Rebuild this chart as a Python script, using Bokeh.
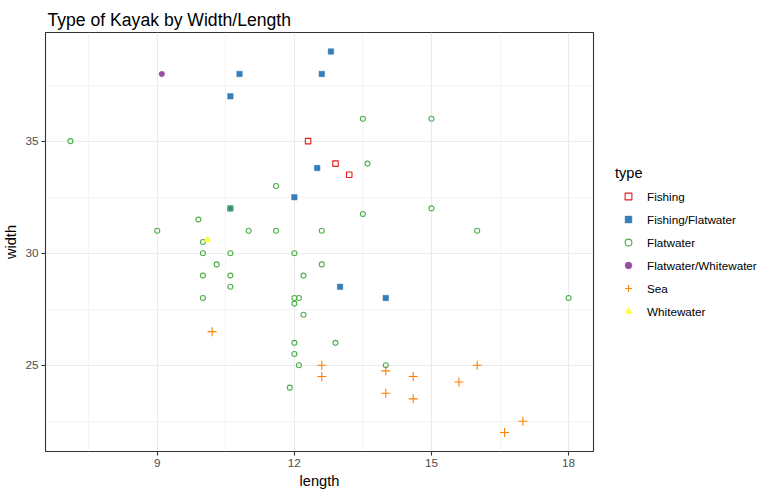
from bokeh.plotting import figure
from bokeh.models import FixedTicker, Legend, LegendItem
from bokeh.embed import file_html
from bokeh.resources import INLINE

types = ["Fishing", "Fishing/Flatwater", "Flatwater", "Flatwater/Whitewater", "Sea", "Whitewater"]

fishing_len = [12.3, 12.9, 13.2]
fishing_wid = [35, 34, 33.5]

fishflat_len = [12.8, 10.8, 12.6, 10.6, 12.5, 12.0, 10.6, 13.0, 14.0]
fishflat_wid = [39, 38, 38, 37, 33.8, 32.5, 32, 28.5, 28]

flat_len = [7.1, 13.5, 15.0, 13.6, 11.6, 9.9, 10.6, 13.5, 15.0, 9.0, 11.0, 11.6, 12.6, 16.0,
            10.0, 10.0, 10.6, 12.0, 10.3, 12.6, 10.0, 10.6, 12.2, 10.6, 10.0, 12.0, 12.1, 12.0,
            12.2, 18.0, 12.0, 12.9, 12.0, 12.1, 14.0, 11.9]
flat_wid = [35, 36, 36, 34, 33, 31.5, 32, 31.75, 32, 31, 31, 31, 31, 31,
            30.5, 30, 30, 30, 29.5, 29.5, 29, 29, 29, 28.5, 28, 28, 28, 27.75,
            27.25, 28, 26, 26, 25.5, 25, 25, 24]

flatwhite_len = [9.1]
flatwhite_wid = [38]

sea_len = [10.2, 12.6, 12.6, 14.0, 14.0, 14.6, 14.6, 15.6, 16.0, 16.6, 17.0]
sea_wid = [26.5, 25, 24.5, 24.75, 23.75, 24.5, 23.5, 24.25, 25, 22, 22.5]

white_len = [10.1]
white_wid = [30.6]

x_ticks = [9, 12, 15, 18]
x_minor = [7.5, 10.5, 13.5, 16.5]
y_ticks = [25, 30, 35]
y_minor = [22.5, 27.5, 32.5, 37.5]

FONT = "Liberation Sans"

p = figure(frame_width=548, frame_height=419, output_backend="svg", toolbar_location=None,
           x_range=(6.555, 18.545), y_range=(21.15, 39.85),
           min_border_left=39, min_border_top=32, min_border_bottom=37, min_border_right=0)

p.title.text = "Type of Kayak by Width/Length"
p.title.text_font = FONT
p.title.text_font_size = "17.6px"
p.title.text_font_style = "normal"
p.title.text_color = "black"
p.title.offset = 2
p.title.standoff = 2
p.title.vertical_align = "top"

p.background_fill_color = "white"
p.border_fill_color = "white"
p.outline_line_color = "#333333"
p.outline_line_width = 1.1

p.xaxis.ticker = FixedTicker(ticks=x_ticks, minor_ticks=x_minor)
p.yaxis.ticker = FixedTicker(ticks=y_ticks, minor_ticks=y_minor)
p.xgrid.ticker = p.xaxis.ticker
p.ygrid.ticker = p.yaxis.ticker

for g in (p.xgrid, p.ygrid):
    g.grid_line_color = "#EBEBEB"
    g.grid_line_width = 1.1
    g.minor_grid_line_color = "#EBEBEB"
    g.minor_grid_line_width = 0.55

for ax in (p.xaxis, p.yaxis):
    ax.axis_line_color = None
    ax.major_tick_line_color = "#333333"
    ax.major_tick_line_width = 1.1
    ax.major_tick_out = 4
    ax.major_tick_in = 0
    ax.minor_tick_line_color = None
    ax.major_label_text_font = FONT
    ax.major_label_text_font_size = "11.7px"
    ax.major_label_text_color = "#4D4D4D"
    ax.major_label_standoff = 3
    ax.axis_label_text_font = FONT
    ax.axis_label_text_font_size = "14.6px"
    ax.axis_label_text_font_style = "normal"
    ax.axis_label_text_color = "black"
    ax.axis_label_standoff = 3

p.xaxis.axis_label = "length"
p.yaxis.axis_label = "width"

r1 = p.scatter(fishing_len, fishing_wid, marker="square", size=5.5, fill_color=None,
               line_color="#E41A1C", line_width=1.1)
r2 = p.scatter(fishflat_len, fishflat_wid, marker="square", size=5.5, fill_color="#377EB8",
               line_color="#377EB8", line_width=0.5)
r3 = p.scatter(flat_len, flat_wid, marker="circle", size=5, fill_color=None,
               line_color="#4DAF4A", line_width=1.1)
r4 = p.scatter(flatwhite_len, flatwhite_wid, marker="circle", size=5.5, fill_color="#984EA3",
               line_color="#984EA3", line_width=0.5)
r5 = p.scatter(sea_len, sea_wid, marker="cross", size=9, line_color="#FF7F00", line_width=1.1)
r6 = p.scatter(white_len, white_wid, marker="triangle", size=6.5, fill_color="#FFFF33",
               line_color="#FFFF33", line_width=0.5)

legend = Legend(items=[LegendItem(label=t, renderers=[r]) for t, r in
                       zip(types, [r1, r2, r3, r4, r5, r6])],
                location="center_left")
legend.title = "type"
legend.title_text_font = FONT
legend.title_text_font_size = "14.6px"
legend.title_text_font_style = "normal"
legend.title_text_color = "black"
legend.title_standoff = 7
legend.label_text_font = FONT
legend.label_text_font_size = "11.7px"
legend.label_text_color = "black"
legend.glyph_width = 26
legend.glyph_height = 17
legend.label_height = 17
legend.spacing = 6
legend.label_standoff = 6
legend.padding = 8
legend.margin = 22
legend.border_line_color = None
legend.background_fill_color = None
p.add_layout(legend, "right")

open("out.html", "w").write(file_html(p, INLINE))
